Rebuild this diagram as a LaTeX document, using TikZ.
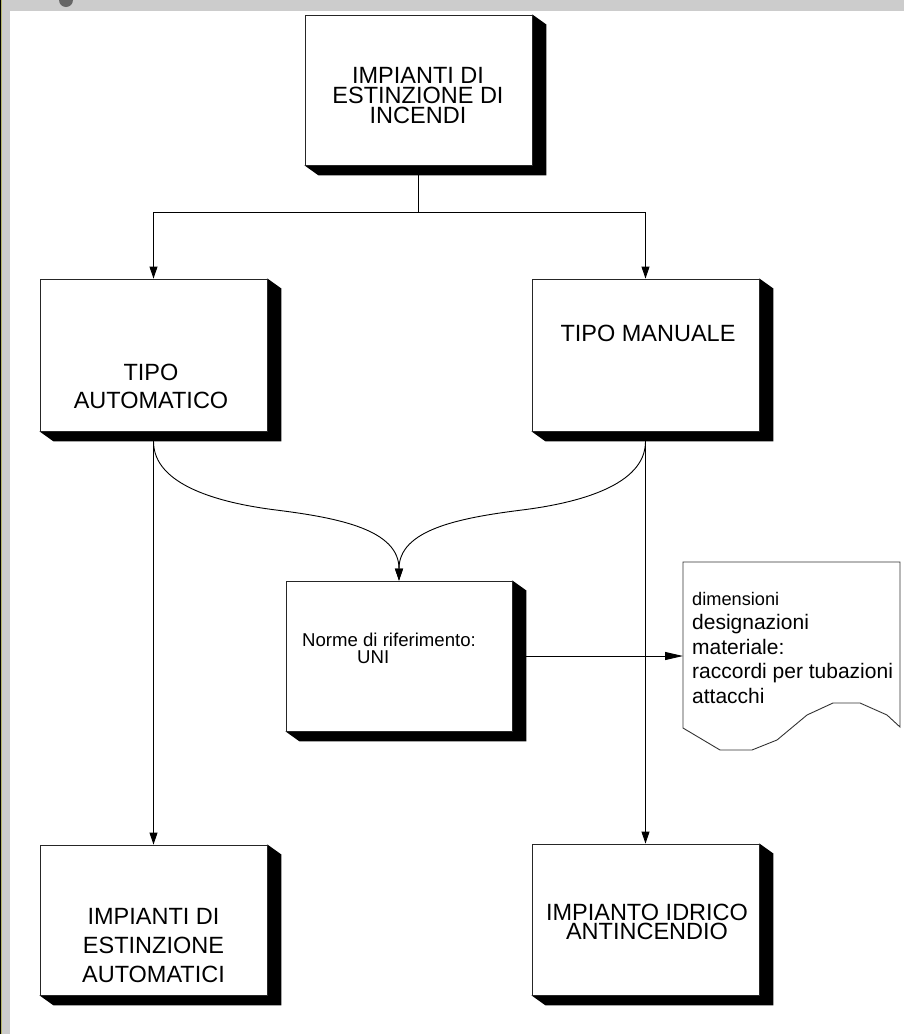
\documentclass[tikz,border=0pt]{standalone}
\usepackage{fontspec}
\setmainfont{Liberation Sans}
\usetikzlibrary{arrows.meta,backgrounds}

\definecolor{framegray}{HTML}{CCCCCC}
\definecolor{frameolive}{HTML}{B5B56A}
\definecolor{knob}{HTML}{666666}

\tikzset{
  panel/.style={draw=black!85, line width=0.9pt, fill=white, inner sep=0pt,
                minimum width=227pt, minimum height=150pt},
  boxtext/.style={inner sep=0pt, align=center, anchor=north},
  plainline/.style={draw=black, line width=0.9pt},
  link/.style={plainline, -{Triangle[length=12pt,width=8pt]}},
  longlink/.style={plainline, -{Triangle[length=18pt,width=8pt]}},
}

% black bevelled drop shadow behind a panel
\newcommand\dropshade[1]{%
  \begin{pgfonlayer}{background}
    \fill[black] (#1.north east) -- ([shift={(14,10)}]#1.north east)
      -- ([shift={(14,10)}]#1.south east) -- ([shift={(14,10)}]#1.south west)
      -- (#1.south west) -- cycle;
  \end{pgfonlayer}}

\begin{document}
\begin{tikzpicture}[x=1pt,y=-1pt]
\useasboundingbox (0,0) rectangle (904,1034);

% window frame
\fill[framegray] (0,0) rectangle (904,10.5);
\fill[framegray] (0,0) rectangle (10,1034);
\fill[black] (0,0) rectangle (1.3,1034);
\fill[frameolive] (1.3,0) rectangle (2.3,1034);
\fill[knob] (66,0) circle (7);

% panels
\node[panel] (top) at (418.5,90) {};
\node[panel, minimum height=152pt] (auto) at (153.5,355) {};
\node[panel, minimum height=152pt] (manu) at (645.5,355) {};
\node[panel, minimum width=226pt] (norme) at (399,656) {};
\node[panel] (autoimp) at (153.5,920) {};
\node[panel, minimum height=151pt] (idrico) at (645.5,919.5) {};
\foreach \n in {top,auto,manu,norme,autoimp,idrico} {\dropshade{\n}}

% panel texts
\node[boxtext, font=\fontsize{23.5}{20}\selectfont] (toptext) at (418,67)
  {IMPIANTI DI\\ESTINZIONE DI\\INCENDI};
\node[boxtext, font=\fontsize{23.5}{28}\selectfont] (autotext) at (151,364)
  {TIPO\\AUTOMATICO};
\node[boxtext, font=\fontsize{23.5}{28}\selectfont] (manutext) at (648,325)
  {TIPO MANUALE};
\node[inner sep=0pt, align=left, anchor=north west,
      font=\fontsize{18.6}{17}\selectfont] (normetext) at (302,633)
  {Norme di riferimento:\\\hspace*{55pt}UNI};
\node[boxtext, font=\fontsize{23.5}{29}\selectfont] (autoimptext) at (153.5,908)
  {IMPIANTI DI\\ESTINZIONE\\AUTOMATICI};
\node[boxtext, font=\fontsize{23.5}{19}\selectfont] (idricotext) at (647,904)
  {IMPIANTO IDRICO\\ANTINCENDIO};

% document sheet with wavy lower edge
\draw[draw=black!80, line width=0.9pt, fill=white]
  (683,562) -- (900,562) -- (900,727) -- (887,715) -- (860,703) -- (833,703)
  -- (807,715) -- (777,740) -- (752,750) -- (720,750) -- (683,728) -- cycle;
\coordinate (docin) at (683,656);
\node[inner sep=0pt, align=left, anchor=north west,
      font=\fontsize{21}{24.5}\selectfont] (doctext) at (692,592)
  {{\fontsize{18.2}{24.5}\selectfont dimensioni}\\designazioni\\materiale:\\raccordi per tubazioni\\attacchi};

% connectors
\coordinate (topout) at ([shift={(0,10)}]top.south);
\coordinate (split) at (418.5,212);
\coordinate (autoout) at ([shift={(0,10)}]auto.south);
\coordinate (manuout) at ([shift={(0,10)}]manu.south);
\coordinate (normeout) at ([shift={(14,0)}]norme.east);
\coordinate (bendL) at (276,510);
\coordinate (bendR) at (522,510);

\draw[plainline] (topout) -- (split);
\draw[link] (split) -| (auto.north);
\draw[link] (split) -| (manu.north);

\draw[link] (autoout) -- (autoimp.north);
\draw[link] (manuout) -- (idrico.north);

\draw[link] (autoout) .. controls +(0,44) and (220,503) .. (bendL)
  .. controls (340,518) and (399,530) .. (norme.north);
\draw[link] (manuout) .. controls +(0,44) and (578,503) .. (bendR)
  .. controls (458,518) and (399,530) .. (norme.north);

\draw[longlink] (normeout) -- (docin);
\end{tikzpicture}
\end{document}
